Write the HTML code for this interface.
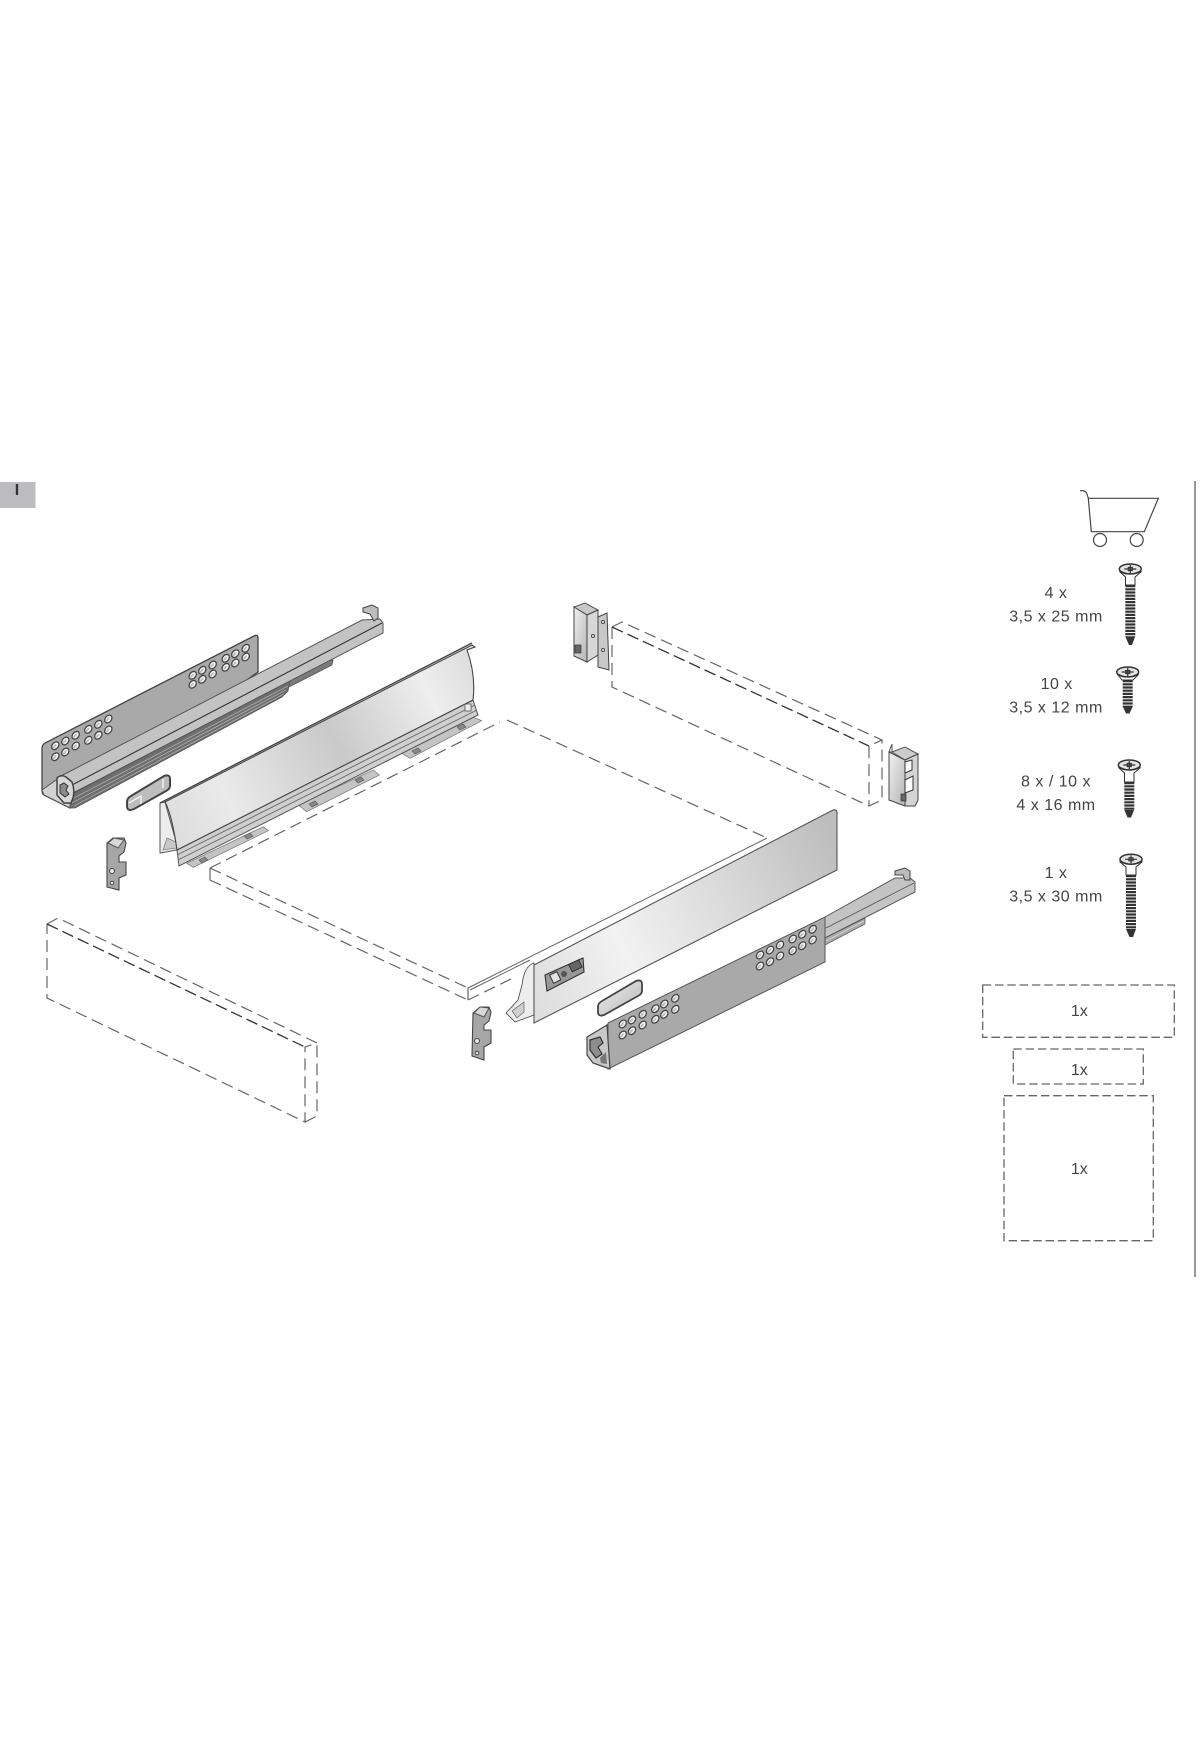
<!DOCTYPE html>
<html><head><meta charset="utf-8"><title>Drawer set</title>
<style>html,body{margin:0;padding:0;background:#fff;width:1200px;height:1760px;overflow:hidden}svg{display:block;filter:blur(.35px)}
text{font-family:"Liberation Sans",sans-serif;fill:#444;font-size:16px;letter-spacing:.5px;text-anchor:middle}
.d{fill:none;stroke:#666;stroke-width:1.2;stroke-dasharray:12 6}
.k{fill:none;stroke:#333;stroke-width:1.3;stroke-dasharray:12 5}
.b{fill:none;stroke:#666;stroke-width:1.3;stroke-dasharray:8.5 3.8}
.t{fill:none;stroke:#333;stroke-width:10;stroke-dasharray:2.2 1}
.tab{fill:#c4c4c4;stroke:#777;stroke-width:.7}
</style></head><body>
<svg width="1200" height="1760" viewBox="0 0 1200 1760" xmlns="http://www.w3.org/2000/svg">
<defs>
<linearGradient id="g1" gradientUnits="userSpaceOnUse" x1="165" y1="830" x2="475" y2="670">
<stop offset="0" stop-color="#dcdcdc"/><stop offset=".2" stop-color="#eaeaea"/><stop offset=".55" stop-color="#c9c9c9"/><stop offset=".85" stop-color="#eeeeee"/><stop offset="1" stop-color="#dedede"/></linearGradient>
<linearGradient id="g2" gradientUnits="userSpaceOnUse" x1="534" y1="1000" x2="837" y2="840">
<stop offset="0" stop-color="#dedede"/><stop offset=".3" stop-color="#f2f2f2"/><stop offset=".65" stop-color="#d9d9d9"/><stop offset="1" stop-color="#bdbdbd"/></linearGradient>
<linearGradient id="g3" x1="0" y1="0" x2="1" y2="1"><stop offset="0" stop-color="#f0f0f0"/><stop offset="1" stop-color="#b5b5b5"/></linearGradient>
<g id="h"><ellipse rx="4.3" ry="3.1" transform="rotate(-50)" fill="#f4f4f4" stroke="#444" stroke-width="1.3"/><ellipse cx="-.8" cy="-.2" rx="2.6" ry="1" transform="rotate(-50)" fill="#bbb"/></g>
<g id="sh"><ellipse rx="11" ry="5" fill="#e4e4e4" stroke="#333" stroke-width="1.5"/><path d="M-6 0H6M0-4V4M-2-1.5H2V1.5H-2Z" stroke="#333" stroke-width="1.2" fill="#fff"/><path d="M-10.5 1.5Q0 8 10.5 1.5" fill="none" stroke="#333"/></g>
</defs>

<!-- tab -->
<rect x="0" y="482" width="35.5" height="26" fill="#bcbcbe"/>
<text x="17" y="495" style="font-weight:bold;font-size:16px;fill:#333;letter-spacing:0">I</text>

<!-- side rule -->
<line x1="1195" y1="481" x2="1195" y2="1277" stroke="#777" stroke-width="1.5"/>

<!-- dashed panels -->
<path class="d" d="M210 868L468 988M210 880L468 1000M210 868V880M468 988V1000M468 1000L513 978M210 868L500 722M507 720L767 838"/>
<path d="M468 988L767 838M470 990L530 960" fill="none" stroke="#666" stroke-width="1"/>
<path class="d" d="M612 627L622 622L882 740M612 627V687L869 806L882 800V740L869 746V806"/>
<path class="k" d="M612 627L869 746"/>
<path class="d" d="M47 924L58 918L317 1043L305 1047V1122L47 998V924M305 1122L317 1116V1043"/>
<path class="k" d="M47 924L305 1047"/>

<!-- left rail -->
<path d="M42 748Q42 745 45 743L254 636Q258 634 258 638V672L70 808L44 795Q42 794 42 790Z" fill="#a9a9a9" stroke="#444" stroke-width="1.3"/>
<path d="M42 790L56 780L70 790V808L44 795Z" fill="#d2d2d2" stroke="#555"/>
<path d="M262 674L333 660L332 665L287 688L262 694Z" fill="#7a7a7a" stroke="#555" stroke-width=".8"/>
<path d="M70 795L290 680L288 691L282 697L75 808H70Z" fill="#6e6e6e" stroke="#555" stroke-width=".8"/>
<path d="M72 799L288 686M72 803L286 690M74 806L284 694" stroke="#b8b8b8" stroke-width=".7" fill="none"/>
<path d="M57 778L362 620L380 619L383 623V633L73 793L66 796Z" fill="#c3c3c3" stroke="#555" stroke-width="1"/>
<path d="M72 785L382 623" stroke="#333" stroke-width="1.1" fill="none"/>
<path d="M363 608L372 605L378 608V618L374 621L370 614L363 612Z" fill="#bdbdbd" stroke="#444"/>
<path d="M57 778Q61 774 66 777L72 782Q75 790 73 798L71 803L64 803L57 795Z" fill="#d8d8d8" stroke="#444" stroke-width="1.5"/>
<path d="M60 785L64 783L68 786L66 790L69 794L65 797L60 793Z" fill="#8a8a8a" stroke="#333" stroke-width="1"/>

<use href="#h" x="55.3" y="745.7"/><use href="#h" x="65.3" y="741"/><use href="#h" x="75.7" y="735.3"/><use href="#h" x="88.3" y="729.3"/><use href="#h" x="98.3" y="724.3"/><use href="#h" x="108.3" y="719"/>
<use href="#h" x="55.3" y="756.7"/><use href="#h" x="65.3" y="752"/><use href="#h" x="75.7" y="746"/><use href="#h" x="88.3" y="740.3"/><use href="#h" x="98.3" y="735.3"/><use href="#h" x="108.3" y="730"/>
<use href="#h" x="192.7" y="675.3"/><use href="#h" x="202.3" y="670.3"/><use href="#h" x="212.7" y="665"/><use href="#h" x="225.7" y="658.3"/><use href="#h" x="235.3" y="653.7"/><use href="#h" x="245.7" y="648.3"/>
<use href="#h" x="192.7" y="684.3"/><use href="#h" x="202.3" y="679.3"/><use href="#h" x="212.7" y="674"/><use href="#h" x="225.7" y="667.3"/><use href="#h" x="235.3" y="663"/><use href="#h" x="245.7" y="657"/>

<!-- left connector + clip -->
<path d="M127 802Q127 798 131 796L164 776Q170 774 170 779V786Q170 789 166 791L134 809Q127 812 127 806Z" fill="#bdbdbd" stroke="#444" stroke-width="2"/>
<path d="M129 803L141 796V804M163 779V788" stroke="#fff" fill="none" stroke-width="1.2"/>
<path d="M107 843L113 838H124L126 843L124 852L119 856V862H126V875L119 878V890L107 887Z" fill="#a6a6a6" stroke="#444" stroke-width="1.1"/>
<path d="M108 843L118 848L124 840L114 838Z" fill="#d8d8d8" stroke="#555"/>
<circle cx="112" cy="871" r="2.5" fill="#e8e8e8" stroke="#444"/><circle cx="112" cy="883" r="1.8" fill="#e8e8e8" stroke="#444"/>

<!-- left drawer side -->
<path class="tab" d="M186.7 863.3L263.3 826.7L268.3 830.7L193.3 867.3Z"/>
<path class="tab" d="M298.3 805L373.3 770L379.3 775L306.7 811.7Z"/>
<path class="tab" d="M401.7 753.3L473.3 717.3L481.7 720.7L410 758.3Z"/>
<g fill="#888" stroke="#555" stroke-width=".6"><path d="M199 860L205 857L208 860L202 863Z"/><path d="M244 836L250 833L253 836L247 839Z"/><path d="M309 804L315 801L318 804L312 807Z"/><path d="M355 780L361 777L364 780L358 783Z"/><path d="M412 751L418 748L421 751L415 754Z"/><path d="M457 727L463 724L466 727L460 730Z"/></g>
<path d="M160 803L165 802L177 845V850L160 853Z" fill="#ececec" stroke="#555"/>
<path d="M163 850L167 838L176 842L177 848Z" fill="#c8c8c8" stroke="#777" stroke-width=".7"/>
<path d="M177 850L473 700L478 715L179 866Z" fill="#cfcfcf" stroke="#555"/>
<path d="M177 855L475 705M178 860L477 710" stroke="#666" stroke-width=".9" fill="none"/>
<path d="M165 802L472 645L475 647L467 650Q476 675 473 700L177 850Q172 815 165 802Z" fill="url(#g1)" stroke="#444" stroke-width="1.1"/>
<path d="M160 803L472 643" stroke="#444" stroke-width="1.4"/>
<rect x="465" y="704" width="6" height="7" fill="#eee" stroke="#555" stroke-width=".8"/>

<!-- right drawer side -->
<path d="M534 963Q524 966 522 985L518 1000L506 1013L515 1022L534 1015Z" fill="#ededed" stroke="#555" stroke-width=".9"/>
<path d="M512 1011L524 1002V1012L517 1018Z" fill="#d0d0d0" stroke="#666" stroke-width=".7"/>
<path d="M534 965L833 810Q837 809 837 813V870L534 1023Z" fill="url(#g2)" stroke="#555" stroke-width="1.1"/>
<path d="M545 975L583 958L584 972L547 991Z" fill="#999" stroke="#333" stroke-width="1.1"/>
<rect x="551" y="973" width="8" height="9" fill="#e4e4e4" stroke="#333" transform="rotate(-26 555 977)"/><circle cx="564" cy="974" r="3" fill="#555"/><rect x="570" y="962" width="11" height="8" fill="#666" stroke="#333" transform="rotate(-26 575 966)"/>
<path d="M598 1007Q598 1003 602 1001L636 981Q642 979 642 984V991Q642 994 638 996L604 1015Q598 1017 598 1012Z" fill="url(#g3)" stroke="#444" stroke-width="1.8"/>

<!-- right rail -->
<path d="M825 917L895 878H910L915 882V892L825 938Z" fill="#c4c4c4" stroke="#555"/>
<path d="M826 928L914 883" stroke="#555" stroke-width=".8" fill="none"/>
<path d="M825 938L865 918V924L825 945Z" fill="#a8a8a8" stroke="#555" stroke-width=".7"/>
<path d="M826 941L864 921" stroke="#eee" stroke-width=".7" fill="none"/>
<path d="M895 871L905 868L910 871V880L905 880L903 875L895 875Z" fill="#bbb" stroke="#444"/>
<path d="M608 1023L825 917V962L608 1069Z" fill="#a9a9a9" stroke="#555"/>
<path d="M587 1037L607 1025L610 1069L593 1063L587 1055Z" fill="#c8c8c8" stroke="#444" stroke-width="1.2"/>
<path d="M590 1040L600 1037L603 1043L598 1047L602 1054L596 1058L590 1050Z" fill="#8d8d8d" stroke="#333" stroke-width="1.2"/>
<path d="M600 1058L606 1052L607 1064L601 1063Z" fill="#777"/>

<use href="#h" x="622.7" y="1024"/><use href="#h" x="632" y="1020"/><use href="#h" x="642.7" y="1014.3"/><use href="#h" x="655.3" y="1008.7"/><use href="#h" x="664.3" y="1004"/><use href="#h" x="675.3" y="998.3"/>
<use href="#h" x="622.7" y="1035"/><use href="#h" x="632" y="1030.7"/><use href="#h" x="642.7" y="1025"/><use href="#h" x="655.3" y="1019.3"/><use href="#h" x="664.3" y="1014.3"/><use href="#h" x="675.3" y="1009.3"/>
<use href="#h" x="760" y="955"/><use href="#h" x="770" y="950"/><use href="#h" x="780" y="945"/><use href="#h" x="792.7" y="939"/><use href="#h" x="802.3" y="934.3"/><use href="#h" x="812.7" y="929.3"/>
<use href="#h" x="760" y="966"/><use href="#h" x="770" y="961.7"/><use href="#h" x="780" y="956"/><use href="#h" x="792.7" y="950.7"/><use href="#h" x="802.3" y="945.7"/><use href="#h" x="812.7" y="940"/>

<!-- right clip -->
<path d="M473 1013L480 1007H489L491 1012L489 1021L484 1025V1030H491V1043L484 1047V1060L472 1056Z" fill="#a6a6a6" stroke="#444" stroke-width="1.1"/>
<path d="M474 1013L484 1017L489 1008L480 1007Z" fill="#d8d8d8" stroke="#555"/>
<circle cx="477" cy="1041" r="2.5" fill="#e8e8e8" stroke="#444"/><circle cx="477" cy="1053" r="1.8" fill="#e8e8e8" stroke="#444"/>

<!-- top-left bracket -->
<path d="M574 607L585 603L598 610L587 615Z" fill="#c9c9c9" stroke="#555"/>
<path d="M574 607L587 615V662L574 656Z" fill="url(#g3)" stroke="#444"/>
<path d="M587 615L598 610V655L587 662Z" fill="#d7d7d7" stroke="#444"/>
<rect x="575" y="645" width="6" height="8" fill="#666" stroke="#333" stroke-width=".7"/>
<path d="M598 617L607 613L609 670L598 667Z" fill="#c9c9c9" stroke="#444"/>
<circle cx="603" cy="622" r="1.5" fill="#fff" stroke="#444"/><circle cx="593" cy="636" r="1.5" fill="#fff" stroke="#444"/><circle cx="603" cy="650" r="1.5" fill="#fff" stroke="#444"/>

<!-- right bracket -->
<path d="M892 744L889 752H892Z" fill="none" stroke="#555"/>
<path d="M892 752L905 747L918 754L905 760Z" fill="#ccc" stroke="#555"/>
<path d="M889 752L905 760V806L889 800Z" fill="url(#g3)" stroke="#444"/>
<path d="M905 760L918 754V800L915 806H905Z" fill="#d4d4d4" stroke="#444"/>
<path d="M905 762L912 760V770L905 773ZM905 780L913 776V790L905 793Z" fill="#fff" stroke="#333"/>
<rect x="901" y="794" width="5" height="7" fill="#666" stroke="#333" stroke-width=".7"/>

<!-- cart -->
<path d="M1080 490.7Q1086 490 1087 494L1088.3 498.3H1158.3L1144.3 531.7H1091.3L1088.3 498.3" fill="none" stroke="#444" stroke-width="1.2"/>
<circle cx="1100" cy="540" r="6.5" fill="none" stroke="#444" stroke-width="1.2"/>
<circle cx="1136.7" cy="540" r="6.5" fill="none" stroke="#444" stroke-width="1.2"/>

<!-- screws -->
<path d="M1120 572L1125.5 577V585H1135V577L1141 572Z" fill="#fff" stroke="#333"/>
<line class="t" x1="1130.3" y1="585" x2="1130.3" y2="637"/>
<path d="M1125.5 637H1135L1132 645H1129Z" fill="#333"/>
<use href="#sh" x="1130.3" y="569"/>
<path d="M1118 675L1122 680H1133L1138 675Z" fill="#fff" stroke="#333"/>
<line class="t" x1="1127.7" y1="680" x2="1127.7" y2="707"/>
<path d="M1123 707H1132.5L1129.5 713.5H1126Z" fill="#333"/>
<use href="#sh" x="1127.7" y="672"/>
<path d="M1119 768L1124.5 773V782H1134V773L1140 768Z" fill="#fff" stroke="#333"/>
<line class="t" x1="1129.3" y1="782" x2="1129.3" y2="810"/>
<path d="M1124.5 810H1134L1131 817.5H1127.5Z" fill="#333"/>
<use href="#sh" x="1129.3" y="765"/>
<path d="M1120 862L1126 867V875H1136V867L1142 862Z" fill="#fff" stroke="#333"/>
<line class="t" x1="1131" y1="875" x2="1131" y2="929"/>
<path d="M1126 929H1136L1133 937H1129.5Z" fill="#333"/>
<use href="#sh" x="1131" y="859.3"/>

<!-- labels -->
<text x="1056" y="598">4 x</text><text x="1056" y="621.7">3,5 x 25 mm</text>
<text x="1056.7" y="689">10 x</text><text x="1056" y="712.7">3,5 x 12 mm</text>
<text x="1056" y="786.7">8 x / 10 x</text><text x="1056" y="810">4 x 16 mm</text>
<text x="1056" y="878">1 x</text><text x="1056" y="901.7">3,5 x 30 mm</text>

<!-- boxes -->
<rect class="b" x="982.7" y="985" width="191.6" height="52.3"/>
<rect class="b" x="1013.3" y="1049" width="130" height="35"/>
<rect class="b" x="1004" y="1095.7" width="149.3" height="145"/>
<text x="1079.3" y="1016" style="letter-spacing:0">1x</text>
<text x="1079.3" y="1075" style="letter-spacing:0">1x</text>
<text x="1079.3" y="1174" style="letter-spacing:0">1x</text>
</svg>
</body></html>
